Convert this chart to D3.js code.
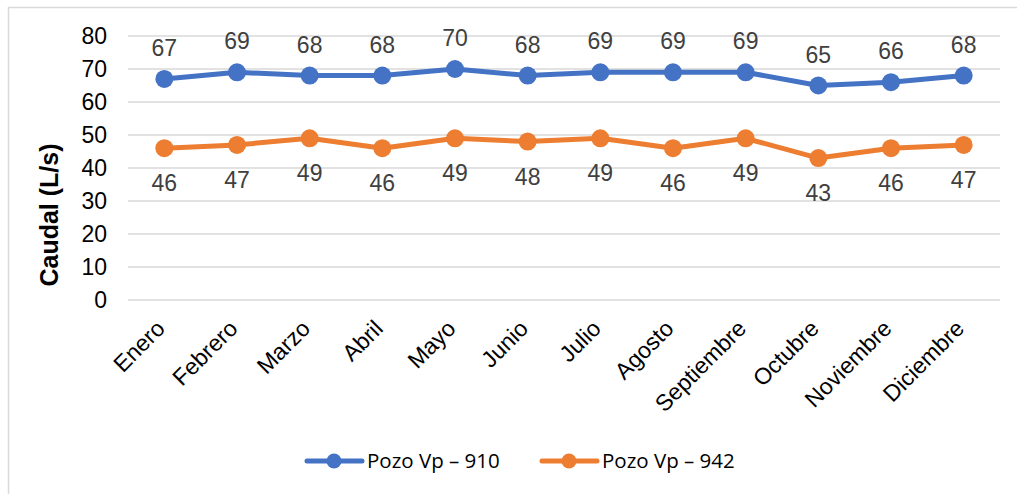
<!DOCTYPE html>
<html>
<head>
<meta charset="utf-8">
<script src="https://cdn.jsdelivr.net/npm/d3@7"></script>
<style>
  html, body { margin: 0; padding: 0; background: #fff; }
  svg { display: block; }
</style>
</head>
<body>
<svg id="chart" width="1017" height="494"></svg>
<script>
// Monthly flow for two wells (L/s)
const months = ["Enero", "Febrero", "Marzo", "Abril", "Mayo", "Junio", "Julio",
  "Agosto", "Septiembre", "Octubre", "Noviembre", "Diciembre"];
const pozo910 = [67, 69, 68, 68, 70, 68, 69, 69, 69, 65, 66, 68];
const pozo942 = [46, 47, 49, 46, 49, 48, 49, 46, 49, 43, 46, 47];
const yTicks = [0, 10, 20, 30, 40, 50, 60, 70, 80];
const seriesNames = ["Pozo Vp \u2013 910", "Pozo Vp \u2013 942"];

const series = [
  { name: seriesNames[0], values: pozo910, color: "#4472C4", labelPos: "above" },
  { name: seriesNames[1], values: pozo942, color: "#ED7D31", labelPos: "below" }
];

const svg = d3.select("#chart");
const font = "Liberation Sans, Arial, sans-serif";

// chart frame
svg.append("rect")
  .attr("x", 8.5).attr("y", 7.5)
  .attr("width", 1030).attr("height", 500)
  .attr("fill", "none").attr("stroke", "#d9d9d9").attr("stroke-width", 1.5);

const plot = { left: 128, right: 1000, top: 36, bottom: 300 };

const x = d3.scaleBand().domain(months).range([plot.left, plot.right]);
const y = d3.scaleLinear().domain([0, 80]).range([plot.bottom, plot.top]);
const cx = m => x(m) + x.bandwidth() / 2;

// horizontal gridlines
svg.append("g").selectAll("line").data(yTicks).join("line")
  .attr("x1", plot.left).attr("x2", plot.right)
  .attr("y1", d => y(d)).attr("y2", d => y(d))
  .attr("stroke", "#d9d9d9").attr("stroke-width", 1.5);

// y axis labels
const yAxis = svg.append("g")
  .attr("transform", `translate(${plot.left},0)`)
  .call(d3.axisLeft(y).tickValues(yTicks).tickSize(0).tickPadding(21));
yAxis.select(".domain").remove();
yAxis.selectAll("text")
  .attr("font-family", font).attr("font-size", 23).attr("fill", "#000");

// x axis labels, rotated
const xAxis = svg.append("g")
  .attr("transform", `translate(0,${plot.bottom})`)
  .call(d3.axisBottom(x).tickSize(0).tickPadding(0));
xAxis.select(".domain").remove();
xAxis.selectAll("text")
  .attr("font-family", font).attr("font-size", 23).attr("fill", "#000")
  .attr("text-anchor", "end")
  .attr("dy", 0)
  .attr("transform", "translate(2,30) rotate(-45)");

// y axis title
svg.append("text")
  .attr("transform", "translate(58,215) rotate(-90)")
  .attr("text-anchor", "middle")
  .attr("font-family", font).attr("font-size", 25).attr("font-weight", "bold")
  .attr("fill", "#000")
  .text("Caudal (L/s)");

const line = d3.line().x((d, i) => cx(months[i])).y(d => y(d));

series.forEach(s => {
  const g = svg.append("g");
  g.append("path")
    .attr("d", line(s.values))
    .attr("fill", "none").attr("stroke", s.color)
    .attr("stroke-width", 5).attr("stroke-linejoin", "round").attr("stroke-linecap", "round");
  g.selectAll("circle").data(s.values).join("circle")
    .attr("cx", (d, i) => cx(months[i])).attr("cy", d => y(d))
    .attr("r", 9).attr("fill", s.color);
  g.selectAll("text").data(s.values).join("text")
    .attr("x", (d, i) => cx(months[i]))
    .attr("y", d => s.labelPos === "above" ? y(d) - 23 : y(d) + 43)
    .attr("text-anchor", "middle")
    .attr("font-family", font).attr("font-size", 23).attr("fill", "#404040")
    .text(d => d);
});

// legend
const legendItems = [
  { s: series[0], x0: 307 },
  { s: series[1], x0: 542 }
];
const ly = 461;
legendItems.forEach(({ s, x0 }) => {
  const g = svg.append("g");
  g.append("line")
    .attr("x1", x0).attr("x2", x0 + 55).attr("y1", ly).attr("y2", ly)
    .attr("stroke", s.color).attr("stroke-width", 5).attr("stroke-linecap", "round");
  g.append("circle").attr("cx", x0 + 27).attr("cy", ly).attr("r", 7.5).attr("fill", s.color);
  g.append("text")
    .attr("x", x0 + 60).attr("y", ly + 7)
    .attr("font-family", "Open Sans, Noto Sans, sans-serif").attr("font-size", 20.5).attr("fill", "#000")
    .text(s.name);
});
</script>
</body>
</html>
